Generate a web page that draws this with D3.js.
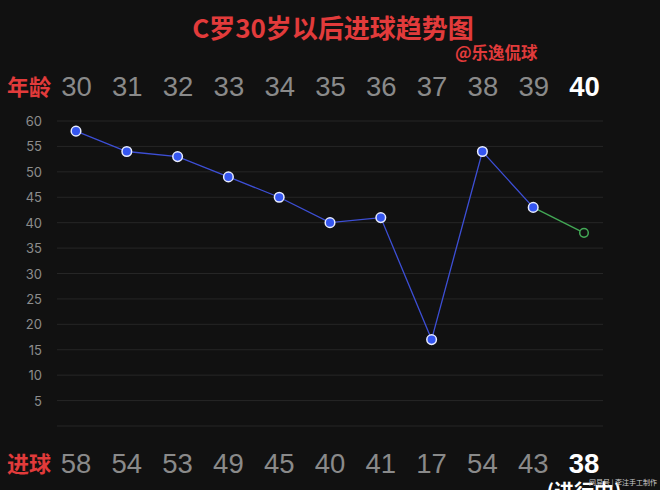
<!DOCTYPE html>
<html><head><meta charset="utf-8">
<script src="https://cdn.jsdelivr.net/npm/d3@7"></script>
<style>html,body{margin:0;padding:0;background:#111111;overflow:hidden}</style>
</head><body><svg id="c" width="660" height="490"></svg>
<script>
const ages = [30,31,32,33,34,35,36,37,38,39,40];
const goals = [58,54,53,49,45,40,41,17,54,43,38];
const yTicks = [5,10,15,20,25,30,35,40,45,50,55,60];
const title = "C罗30岁以后进球趋势图";
const author = "@乐逸侃球";

const svg = d3.select("#c");
const W = 660, H = 490;
svg.append("rect").attr("width",W).attr("height",H).attr("fill","#111111");

const x = d3.scalePoint().domain(ages).range([76,584]);
const y = d3.scaleLinear().domain([0,60]).range([426,121]);

// gridlines
svg.append("g").selectAll("line").data([0].concat(yTicks)).join("line")
  .attr("x1",57).attr("x2",603)
  .attr("y1",d=>y(d)).attr("y2",d=>y(d))
  .attr("stroke","#262626").attr("stroke-width",1);

// y axis labels
const yAxis = d3.axisLeft(y).tickValues(yTicks).tickSize(0).tickPadding(0);
const gy = svg.append("g").attr("transform","translate(42,0)").call(yAxis);
gy.select(".domain").remove();
gy.selectAll("text").attr("fill","#8c8c8c").attr("font-size",13)
  .attr("font-family","Inter, 'Liberation Sans', sans-serif").attr("dy","0.35em");

// title
svg.append("text").attr("x",333).attr("y",38).attr("text-anchor","middle")
  .attr("fill","#e23b3b").attr("font-size",26).attr("font-weight","bold")
  .attr("font-family","'Noto Sans CJK SC', sans-serif").text(title);
svg.append("text").attr("x",455).attr("y",59)
  .attr("fill","#e23b3b").attr("font-size",16.5).attr("font-weight","bold")
  .attr("font-family","'Noto Sans CJK SC', sans-serif").text(author);

// row labels
svg.append("text").attr("x",7).attr("y",95).attr("fill","#e23b3b")
  .attr("font-size",22).attr("font-weight","bold")
  .attr("font-family","'Noto Sans CJK SC', sans-serif").text("年龄");
svg.append("text").attr("x",7).attr("y",472).attr("fill","#e23b3b")
  .attr("font-size",22).attr("font-weight","bold")
  .attr("font-family","'Noto Sans CJK SC', sans-serif").text("进球");

// top axis: ages
const xTop = d3.axisTop(x).tickSize(0).tickPadding(0);
const gt = svg.append("g").attr("transform","translate(0,96)").call(xTop);
gt.select(".domain").remove();
gt.selectAll("text").attr("font-size",27.5).attr("font-family","'Liberation Sans', Arial, sans-serif")
  .attr("dy",0)
  .attr("fill",(d,i)=> i===ages.length-1 ? "#ffffff" : "#8a8a8a")
  .attr("font-weight",(d,i)=> i===ages.length-1 ? "bold" : "normal");

// bottom: goals
svg.append("g").selectAll("text").data(ages).join("text")
  .attr("x",d=>x(d)).attr("y",473).attr("text-anchor","middle")
  .attr("font-size",27.5).attr("font-family","'Liberation Sans', Arial, sans-serif")
  .attr("fill",(d,i)=> i===ages.length-1 ? "#ffffff" : "#8a8a8a")
  .attr("font-weight",(d,i)=> i===ages.length-1 ? "bold" : "normal")
  .text((d,i)=>goals[i]);

svg.append("text").attr("x",x(40)).attr("y",499).attr("text-anchor","middle")
  .attr("fill","#ffffff").attr("font-size",20).attr("font-weight","bold")
  .attr("font-family","'Noto Sans CJK SC', sans-serif").text("(进行中)");
svg.append("text").attr("x",657).attr("y",485).attr("text-anchor","end")
  .attr("fill","#cfcfcf").attr("font-size",7)
  .attr("font-family","'Noto Sans CJK SC', sans-serif").text("网易号 | 李注手工制作");

// lines
const pts = ages.map((a,i)=>({a, g: goals[i]}));
const line = d3.line().x(d=>x(d.a)).y(d=>y(d.g));
svg.append("path").datum(pts.slice(0,10)).attr("d",line)
  .attr("fill","none").attr("stroke","#3d4fd6").attr("stroke-width",1.3);
svg.append("path").datum(pts.slice(9)).attr("d",line)
  .attr("fill","none").attr("stroke","#43a956").attr("stroke-width",1.3);

// points
svg.append("g").selectAll("circle").data(pts.slice(0,10)).join("circle")
  .attr("cx",d=>x(d.a)).attr("cy",d=>y(d.g)).attr("r",4.8)
  .attr("fill","#3556f0").attr("stroke","#e8ecff").attr("stroke-width",1.5);
svg.append("g").selectAll("circle").data(pts.slice(10)).join("circle")
  .attr("cx",d=>x(d.a)).attr("cy",d=>y(d.g)).attr("r",4.3)
  .attr("fill","#111111").attr("stroke","#43a956").attr("stroke-width",1.5);
</script></body></html>
